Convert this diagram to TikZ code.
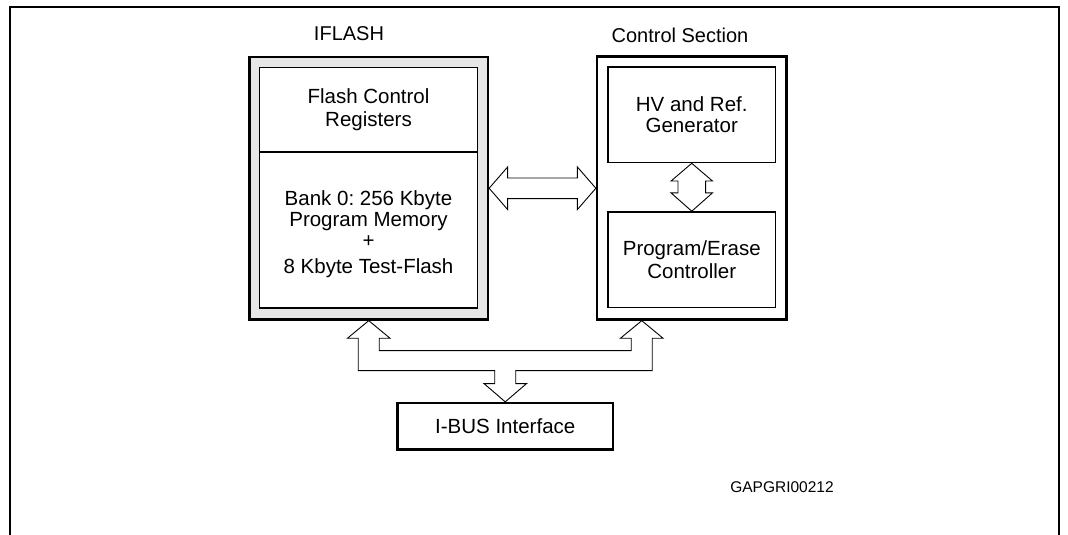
\documentclass[tikz,border=0pt]{standalone}
\usepackage{fontspec}
\setmainfont{Liberation Sans}
\usetikzlibrary{calc}
\definecolor{panelgray}{HTML}{E6E6E6}
\frenchspacing
\begin{document}
\begin{tikzpicture}[x=1pt,y=-1pt,
  outerbox/.style={draw,line width=2.3pt,inner sep=0pt},
  innerbox/.style={draw,line width=1.6pt,fill=white,inner sep=0pt,align=center,font=\fontsize{20.5}{22.5}\selectfont},
  boxtext/.style={inner sep=0pt,align=center,font=\fontsize{20.5}{22.5}\selectfont},
  busarrow/.style={draw,line width=0.9pt,fill=white,line join=miter},
  lbl/.style={inner sep=0pt,font=\fontsize{20}{23}\selectfont}]
\useasboundingbox (0,0) rectangle (1068,535);
% outer frame
\draw[line width=2pt] (10,535) -- (10,7) -- (1059,7) -- (1059,535);

% IFLASH block
\node[outerbox,fill=panelgray,minimum width=238.5pt,minimum height=262.5pt] (iflash) at (368.75,188.25) {};
\node[innerbox,minimum width=218pt,minimum height=84.5pt] (regs) at (368.5,109.75) {Flash Control\\Registers};
\node[innerbox,minimum width=218pt,minimum height=156pt] (bank) at (368.5,230) {};
\node[boxtext] (banktext) at (368.5,234.5) {Bank 0: 256 Kbyte\\[-1.5pt]Program Memory\\[-1.5pt]+\\[3.5pt]8 Kbyte Test-Flash};

% Control section
\node[outerbox,fill=white,minimum width=189.5pt,minimum height=263pt] (ctrl) at (691.75,188) {};
\node[innerbox,minimum width=167.5pt,minimum height=95.5pt] (hv) at (691.75,114.75) {HV and Ref.\\[-2pt]Generator};
\node[innerbox,minimum width=167.5pt,minimum height=95.5pt] (pe) at (691.75,259.75) {Program/Erase\\Controller};

% I-BUS
\node[outerbox,fill=white,minimum width=215.5pt,minimum height=46.5pt,font=\fontsize{20.5}{22.5}\selectfont] (ibus) at (505.25,426.25) {I-BUS Interface};

% labels
\node[lbl] (lblI) at (349,34) {IFLASH};
\node[lbl] (lblC) at (680,35) {Control Section};
\node[inner sep=0pt,font=\fontsize{15.5}{18}\selectfont] (code) at (782,487.3) {GAPGRI00212};

% horizontal double arrow IFLASH <-> Control
\coordinate (A) at (iflash.east);
\coordinate (B) at (iflash.east -| ctrl.west);
\draw[busarrow] (A) -- ($(A)+(18.5,-21.3)$) -- ($(A)+(18.5,-10.3)$) -- ($(B)+(-18.5,-10.3)$) -- ($(B)+(-18.5,-21.3)$) -- (B)
  -- ($(B)+(-18.5,21.3)$) -- ($(B)+(-18.5,10.3)$) -- ($(A)+(18.5,10.3)$) -- ($(A)+(18.5,21.3)$) -- cycle;

% vertical double arrow HV <-> PE
\coordinate (T) at (hv.south);
\coordinate (U) at (pe.north);
\draw[busarrow] (T) -- ($(T)+(20.7,17.7)$) -- ($(T)+(13.8,17.7)$) -- ($(U)+(13.8,-18.3)$) -- ($(U)+(20.7,-18.3)$) -- (U)
  -- ($(U)+(-20.7,-18.3)$) -- ($(U)+(-13.8,-18.3)$) -- ($(T)+(-13.8,17.7)$) -- ($(T)+(-20.7,17.7)$) -- cycle;

% bus arrow
\coordinate (L) at (iflash.south);
\coordinate (R) at ($(ctrl.south)+(-50,0)$);
\coordinate (D) at (ibus.north);
\coordinate (bb) at ($(L)+(0,50)$);
\coordinate (Dr) at ($(D)+(10.5,0)$);
\coordinate (Dl) at ($(D)+(-10.5,0)$);
\draw[busarrow] (L) -- ($(L)+(21.3,17.6)$) -- ($(L)+(10.5,17.6)$) -- ($(L)+(10.5,30)$)
  -- ($(R)+(-10.5,30)$) -- ($(R)+(-10.5,17.6)$) -- ($(R)+(-21.3,17.6)$) -- (R)
  -- ($(R)+(21.3,17.6)$) -- ($(R)+(10.5,17.6)$) -- ($(R)+(10.5,50)$)
  -- (Dr |- bb) -- ($(D)+(10.5,-18.3)$) -- ($(D)+(21.3,-18.3)$) -- (D)
  -- ($(D)+(-21.3,-18.3)$) -- ($(D)+(-10.5,-18.3)$) -- (Dl |- bb)
  -- ($(L)+(-10.5,50)$) -- ($(L)+(-10.5,17.6)$) -- ($(L)+(-21.3,17.6)$) -- cycle;
\end{tikzpicture}
\end{document}
